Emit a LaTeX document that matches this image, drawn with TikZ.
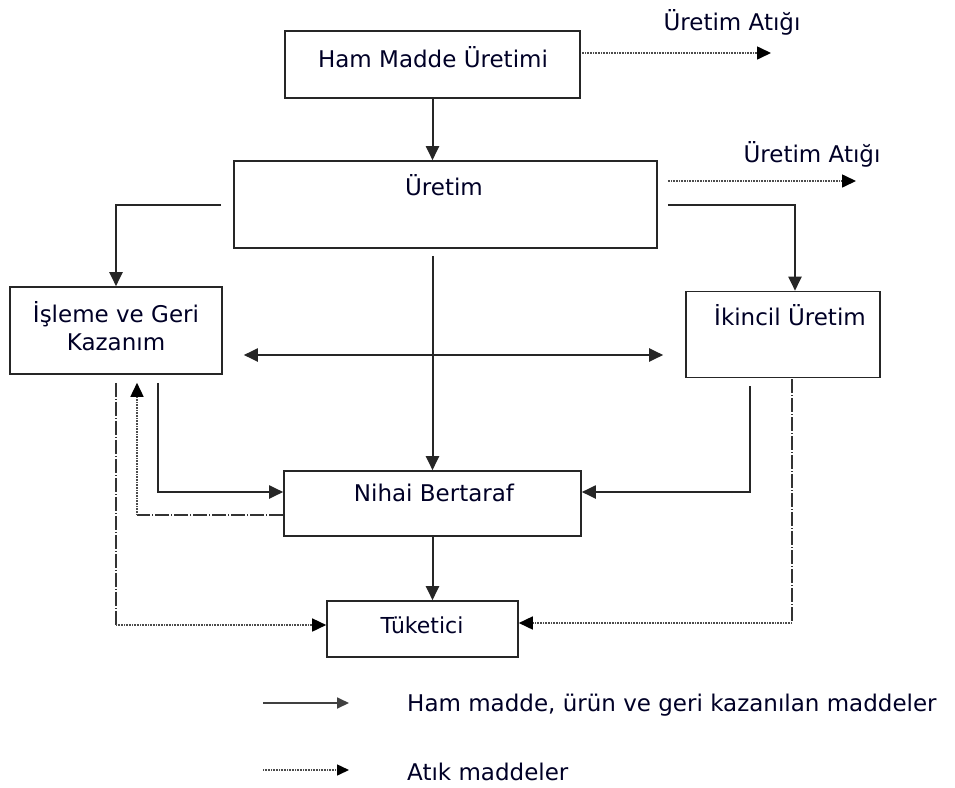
\documentclass[tikz,border=0pt]{standalone}
\usepackage{fontspec}
\setmainfont{DejaVu Sans}
\usetikzlibrary{arrows.meta}
\begin{document}
\begin{tikzpicture}[x=1pt,y=-1pt,
  box/.style={draw=black!85, line width=1.6pt, rectangle, inner sep=0pt},
  lbl/.style={font=\fontsize{23}{27}\selectfont, text=black!85!blue, inner sep=0pt, align=center},
  tip/.style={-{Triangle[length=14pt,width=13pt]}},
  flow/.style={line width=2pt, draw=black!85, tip},
  waste/.style={line width=1.6pt, draw=black!70, dash pattern=on 1pt off 0.6pt, -{Triangle[length=14pt,width=13pt,color=black]}},
  wasteline/.style={line width=1.6pt, draw=black!80, dash pattern=on 14pt off 2pt on 1pt off 2pt},
]
\useasboundingbox (0,0) rectangle (955,787);

% boxes
\node[box, minimum width=295pt, minimum height=67pt] (hm) at (432.5,64.5) {};
\node[box, minimum width=423pt, minimum height=87pt] (ur) at (445.5,204.5) {};
\node[box, minimum width=212pt, minimum height=87pt] (isl) at (116,330.5) {};
\node[box, minimum width=194pt, minimum height=86pt] (ik) at (783,334.5) {};
\node[box, minimum width=297pt, minimum height=65pt] (nb) at (432.5,503.5) {};
\node[box, minimum width=191pt, minimum height=56pt] (tk) at (422.5,629) {};

% box texts
\node[lbl] (hmT) at (433,57) {Ham Madde Üretimi};
\node[lbl] (urT) at (444,185) {Üretim};
\node[lbl] (islT) at (116,326.5) {İşleme ve Geri\\[1pt]Kazanım};
\node[lbl] (ikT) at (790,315) {İkincil Üretim};
\node[lbl] (nbT) at (434,493) {Nihai Bertaraf};
\node[lbl, font=\fontsize{22}{26}\selectfont] (tkT) at (422,625) {Tüketici};

% waste labels
\node[lbl] (w1T) at (732,22) {Üretim Atığı};
\node[lbl] (w2T) at (812,154) {Üretim Atığı};

% free ends
\coordinate (w1e) at (771,53);
\coordinate (w2e) at (856,181);
\coordinate (c1) at (137,515);
\coordinate (c2) at (116,625);
\coordinate (c3) at (792,623);

% solid flows
\draw[flow] (hm.south) -- (hm.south |- ur.north);
\draw[flow, shorten <=12pt] (ur.west) -| (isl.north);
\draw[flow, shorten <=10pt] (ur.east) -| ([xshift=12pt]ik.north);
\draw[line width=2pt, draw=black!85, {Triangle[length=14pt,width=13pt]}-{Triangle[length=14pt,width=13pt]}, shorten <=21pt, shorten >=22pt]
  ([yshift=-24.5pt]isl.east) -- ([yshift=-24.5pt]isl.east -| ik.west);
\draw[flow, shorten <=7pt] (nb.north |- ur.south) -- (nb.north);
\draw[flow, shorten <=8pt] ([xshift=42pt]isl.south) |- ([yshift=11.5pt]nb.west);
\draw[flow, shorten <=8pt] ([xshift=-33pt]ik.south) |- ([yshift=11.5pt]nb.east);
\draw[flow] (nb.south) -- (nb.south |- tk.north);

% waste flows
\draw[waste, shorten <=1pt] ([yshift=11.5pt]hm.east) -- (w1e);
\draw[waste, shorten <=10pt] ([yshift=23.5pt]ur.east) -- (w2e);
\draw[wasteline] ([yshift=-11.5pt]nb.west) -- (c1);
\draw[waste, shorten >=8pt] (c1) -- (c1 |- isl.south);
\draw[wasteline, shorten <=8pt] (isl.south) -- (c2);
\draw[waste] (c2) -- (c2 -| tk.west);
\draw[wasteline, shorten <=1pt] ([xshift=9pt]ik.south) -- (c3);
\draw[waste] (c3) -- (c3 -| tk.east);

% legend
\coordinate (l1a) at (263,703);
\coordinate (l1b) at (349,703);
\coordinate (l2a) at (263,770);
\coordinate (l2b) at (349,770);
\draw[line width=1.8pt, draw=black!75, -{Triangle[length=12pt,width=11pt]}] (l1a) -- (l1b);
\draw[line width=1.5pt, draw=black!70, dash pattern=on 1pt off 0.6pt, -{Triangle[length=12pt,width=11pt,color=black]}] (l2a) -- (l2b);
\node[lbl, anchor=west] (lg1) at (407,705) {Ham madde, ürün ve geri kazanılan maddeler};
\node[lbl, anchor=west] (lg2) at (407,772) {Atık maddeler};
\end{tikzpicture}
\end{document}
